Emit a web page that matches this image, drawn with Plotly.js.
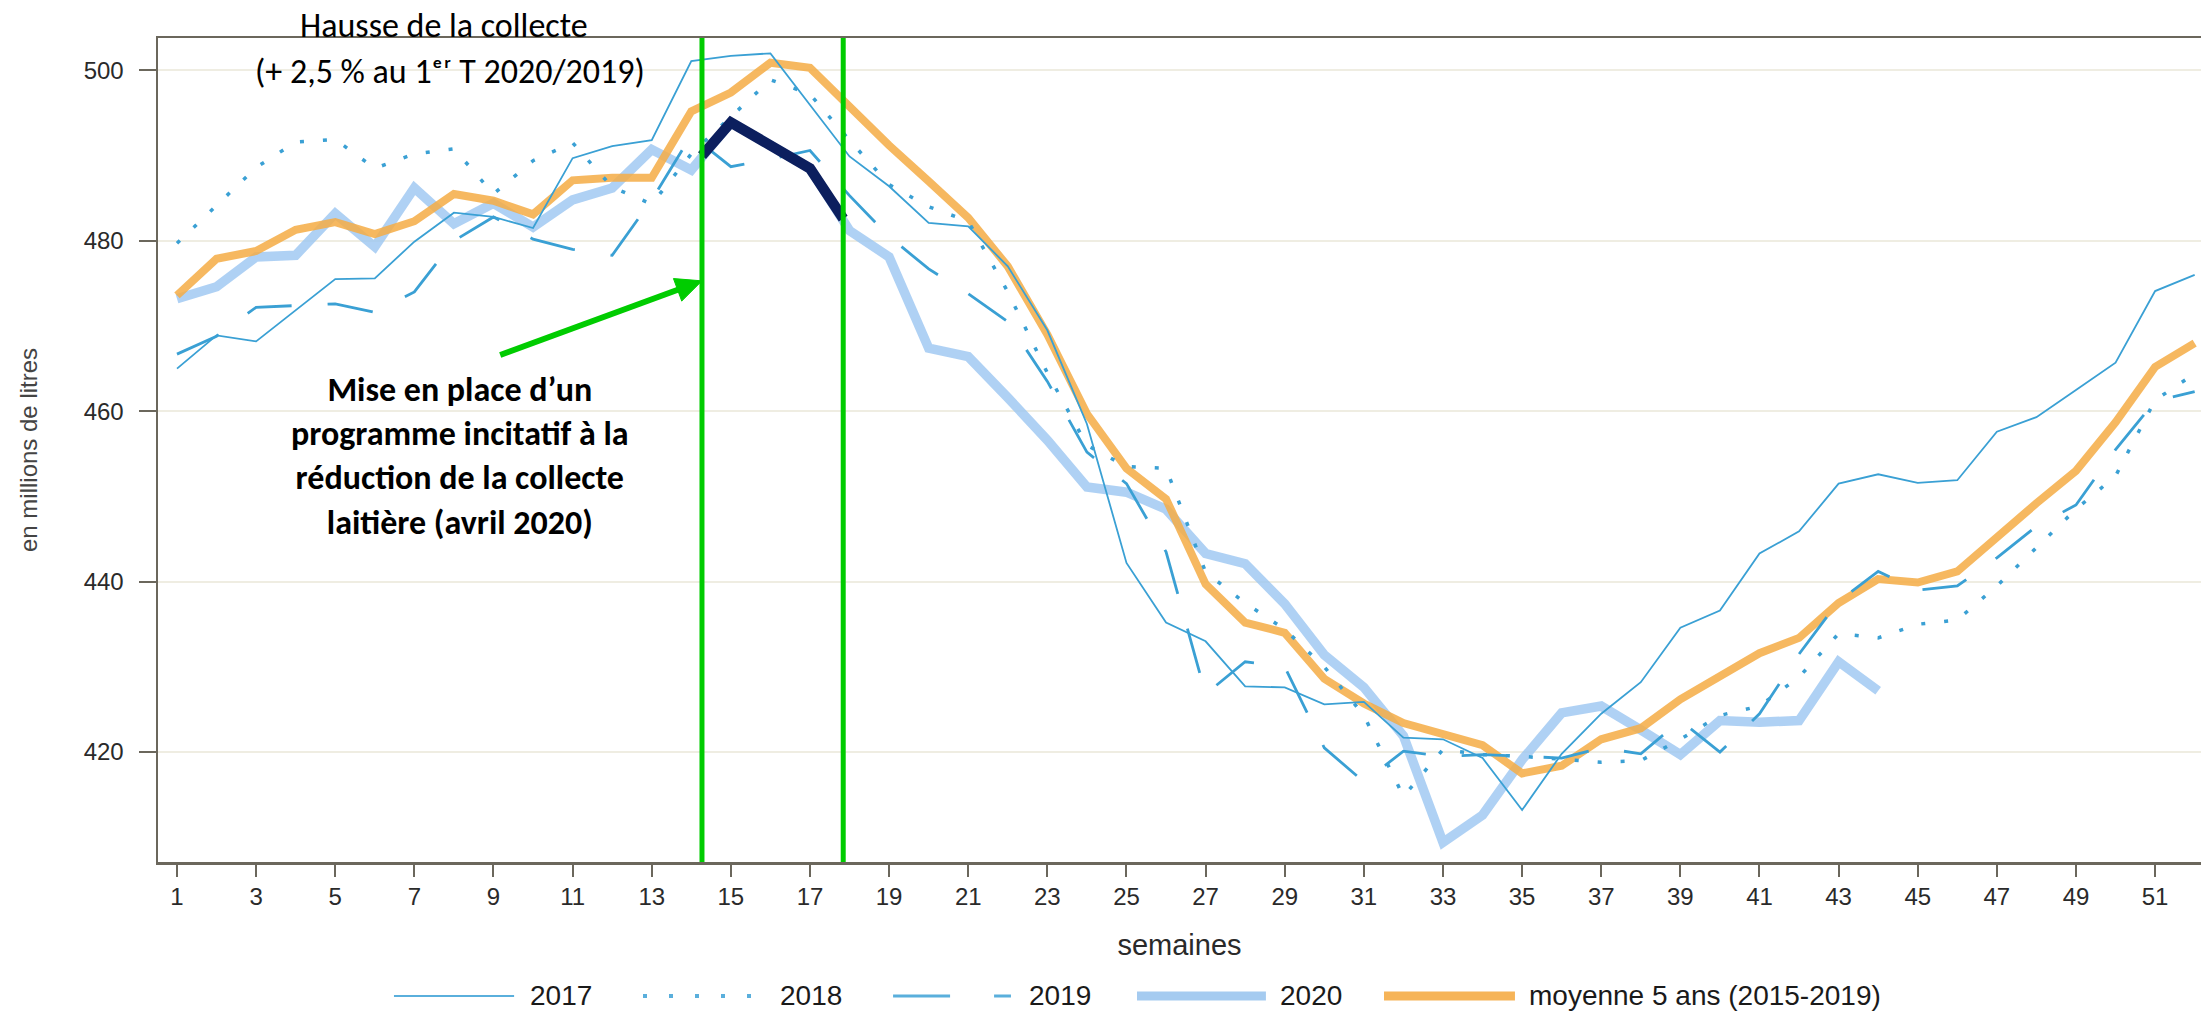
<!DOCTYPE html>
<html>
<head>
<meta charset="utf-8">
<script src="https://cdn.plot.ly/plotly-3.0.1.min.js"></script>
<style>
html, body { margin: 0; padding: 0; background: #ffffff; }
#chart { width: 2201px; height: 1015px; }
</style>
</head>
<body>
<div id="chart"></div>
<script>
// ---- Data ----
const weeks = [1,2,3,4,5,6,7,8,9,10,11,12,13,14,15,16,17,18,19,20,21,22,23,24,25,26,
               27,28,29,30,31,32,33,34,35,36,37,38,39,40,41,42,43,44,45,46,47,48,49,50,51,52];
const weeks2020 = [1,2,3,4,5,6,7,8,9,10,11,12,13,14,15,16,17,18,19,20,21,22,
                   23,24,25,26,27,28,29,30,31,32,33,34,35,36,37,38,39,40,41,42,43,44];

const collecte2017 = [465.0,468.9,468.2,471.8,475.5,475.6,479.9,483.3,482.8,481.5,489.7,491.1,491.8,501.1,501.7,502.0,
  496.0,489.9,486.4,482.1,481.7,477.0,469.5,458.5,442.2,435.2,433.0,427.7,427.6,425.6,425.9,421.7,421.5,419.3,413.2,
  419.8,424.5,428.2,434.6,436.6,443.3,445.9,451.5,452.6,451.6,451.9,457.6,459.3,462.5,465.7,474.1,476.0];

const collecte2018 = [479.7,484.2,488.6,491.6,491.9,488.5,490.2,490.8,485.5,489.4,491.5,486.3,484.3,490.2,494.6,498.9,
  497.2,491.8,486.6,484.0,482.3,474.0,464.5,456.0,453.5,453.3,441.1,437.5,434.4,430.0,424.3,414.8,420.3,419.7,419.5,
  419.2,418.8,419.0,421.5,424.3,425.4,428.8,433.9,433.4,435.0,435.5,439.5,444.0,448.5,452.4,461.3,464.4];

const collecte2019 = [466.7,468.8,472.2,472.4,472.6,471.6,474.0,480.0,482.8,480.2,479.0,478.3,484.8,492.4,488.7,489.6,
  490.6,485.3,480.5,476.7,473.8,470.5,463.5,455.2,451.5,443.5,426.8,430.6,430.0,420.5,416.5,420.1,419.5,419.7,419.5,
  419.3,420.5,419.8,423.7,420.0,424.5,431.5,437.7,441.2,439.0,439.5,442.8,446.5,449.0,455.5,461.2,462.3];

const collecte2020 = [473.2,474.6,478.1,478.3,483.2,479.3,486.2,482.0,484.4,481.6,484.8,486.2,490.7,488.3,493.9,491.2,
  488.5,481.2,478.1,467.4,466.4,461.6,456.6,451.1,450.5,448.5,443.3,442.1,437.4,431.4,427.6,421.9,409.4,412.6,419.1,
  424.6,425.4,422.6,419.7,423.7,423.5,423.7,430.6,427.2];

const moyenne5ans = [473.6,477.9,478.8,481.3,482.2,480.8,482.3,485.5,484.7,483.1,487.1,487.4,487.4,495.2,497.4,500.9,
  500.3,495.6,491.2,487.0,482.7,477.0,469.0,459.7,453.3,449.7,439.7,435.2,434.0,428.6,425.7,423.4,422.0,420.8,417.5,
  418.4,421.5,422.8,426.2,429.0,431.6,433.4,437.5,440.3,439.9,441.2,445.3,449.2,453.0,458.7,465.2,468.0];

// highlighted 2020 segment during the programme (between the two green markers)
const programmeWeeks = [14.27, 15, 17, 17.84];
const programmeValues = [490.0, 493.9, 488.5, 482.6];

// the two green markers (weeks) and the arrow (tail -> tip)
const periodBounds = [14.27, 17.84];
const arrowTail = {week: 9.17, value: 466.6};
const arrowTip = {week: 14.27, value: 475.3};

const xTickVals = [1,3,5,7,9,11,13,15,17,19,21,23,25,27,29,31,33,35,37,39,41,43,45,47,49,51];
const yTickVals = [420, 440, 460, 480, 500];

const seriesNames = ['2017', '2018', '2019', '2020', 'moyenne 5 ans (2015-2019)'];

// ---- Geometry / styles ----
const W = 2201, H = 1015;
const M = {l: 158, r: 0, t: 38, b: 153};
const xRange = [0.52, 52.16];
const yRange = [407.1, 503.8];

const blueThin = 'rgb(58,160,212)';
const lightBlue = 'rgba(155,198,241,0.8)';
const orange = 'rgba(245,172,70,0.86)';
const navy = '#0c1f5e';
const green = '#00cc00';
const axisColor = '#6b675c';

const traces = [
  {x: weeks2020, y: collecte2020, name: seriesNames[3], type: 'scatter', mode: 'lines',
   line: {color: lightBlue, width: 9.5}, showlegend: false, hoverinfo: 'skip'},
  {x: weeks, y: moyenne5ans, name: seriesNames[4], type: 'scatter', mode: 'lines',
   line: {color: orange, width: 8}, showlegend: false, hoverinfo: 'skip'},
  {x: weeks, y: collecte2017, name: seriesNames[0], type: 'scatter', mode: 'lines',
   line: {color: blueThin, width: 1.8}, showlegend: false, hoverinfo: 'skip'},
  {x: weeks, y: collecte2018, name: seriesNames[1], type: 'scatter', mode: 'lines',
   line: {color: blueThin, width: 3.5, dash: '4px,19px'}, showlegend: false, hoverinfo: 'skip'},
  {x: weeks, y: collecte2019, name: seriesNames[2], type: 'scatter', mode: 'lines',
   line: {color: blueThin, width: 2.8, dash: '46px,36px'}, showlegend: false, hoverinfo: 'skip'},
  {x: programmeWeeks, y: programmeValues, name: '2020 (programme)', type: 'scatter', mode: 'lines',
   line: {color: navy, width: 10.5}, showlegend: false, hoverinfo: 'skip'}
];

// ---- manual legend (long line samples as in the reference) ----
const legendY = -0.1625;
const legendItems = [
  {x0: 0.1155, x1: 0.1743, tx: 0.181, line: {color: 'rgb(90,175,220)', width: 2}},
  {x0: 0.2374, x1: 0.2912, tx: 0.3035, line: {color: 'rgb(90,175,220)', width: 4, dash: '4px,22px'}},
  {x0: 0.3598, x1: 0.4175, tx: 0.4255, line: {color: 'rgb(90,175,220)', width: 3, dash: '57px,44px'}},
  {x0: 0.4792, x1: 0.5423, tx: 0.5480, line: {color: 'rgb(165,203,240)', width: 9}},
  {x0: 0.6001, x1: 0.6642, tx: 0.6700, line: {color: 'rgb(246,180,88)', width: 9}}
];

const shapes = [];
periodBounds.forEach(function (w) {
  shapes.push({type: 'line', xref: 'x', yref: 'paper', x0: w, x1: w, y0: 0, y1: 1,
               line: {color: green, width: 5}, layer: 'above'});
});

// arrow drawn as a shaft + filled head, built from arrowTail / arrowTip in pixel space
(function () {
  const pxW = (W - M.l - M.r) / (xRange[1] - xRange[0]);
  const pxV = (H - M.t - M.b) / (yRange[1] - yRange[0]);
  const dx = (arrowTip.week - arrowTail.week) * pxW;
  const dy = (arrowTip.value - arrowTail.value) * pxV;
  const len = Math.sqrt(dx * dx + dy * dy);
  const ux = dx / len, uy = dy / len;
  const headLen = 26, headHalf = 12;
  const bx = -ux * headLen, by = -uy * headLen;
  const nx = -uy * headHalf, ny = ux * headHalf;
  const toW = function (px) { return px / pxW; };
  const toV = function (py) { return py / pxV; };
  const baseW = arrowTip.week + toW(bx), baseV = arrowTip.value + toV(by);
  shapes.push({type: 'line', xref: 'x', yref: 'y', x0: arrowTail.week, y0: arrowTail.value,
               x1: arrowTip.week + toW(bx * 0.6), y1: arrowTip.value + toV(by * 0.6),
               line: {color: green, width: 6}, layer: 'above'});
  const p1 = [arrowTip.week, arrowTip.value];
  const p2 = [baseW + toW(nx), baseV + toV(ny)];
  const p3 = [baseW - toW(nx), baseV - toV(ny)];
  shapes.push({type: 'path', xref: 'x', yref: 'y', layer: 'above',
               path: 'M' + p1[0] + ',' + p1[1] + ' L' + p2[0] + ',' + p2[1] + ' L' + p3[0] + ',' + p3[1] + ' Z',
               fillcolor: green, line: {color: green, width: 1}});
})();

legendItems.forEach(function (it) {
  shapes.push({type: 'line', xref: 'paper', yref: 'paper', x0: it.x0, x1: it.x1, y0: legendY, y1: legendY,
               line: it.line});
});

const annoFont = 'Carlito, Lato, sans-serif';
const annotations = [
  {xref: 'paper', yref: 'paper', x: 0.140, y: 1.0146, xanchor: 'center', yanchor: 'middle',
   text: 'Hausse de la collecte', showarrow: false,
   font: {family: annoFont, size: 34, color: '#000000'}},
  {xref: 'paper', yref: 'paper', x: 0.1429, y: 0.9593, xanchor: 'center', yanchor: 'middle',
   text: '(+ 2,5 % au 1ᵉʳ T 2020/2019)', showarrow: false,
   font: {family: annoFont, size: 34, color: '#000000'}},
  {xref: 'paper', yref: 'paper', x: 0.1478, y: 0.4933, xanchor: 'center', yanchor: 'middle', align: 'center',
   text: '<b>Mise en place d’un<br>programme incitatif à la<br>réduction de la collecte<br>laitière (avril 2020)</b>',
   showarrow: false, font: {family: annoFont, size: 34, color: '#000000'}}
];
legendItems.forEach(function (it, i) {
  annotations.push({xref: 'paper', yref: 'paper', x: it.tx, y: legendY, xanchor: 'left', yanchor: 'middle',
    text: seriesNames[i], showarrow: false,
    font: {family: 'Liberation Sans, Arial, sans-serif', size: 28, color: '#1a1a1a'}});
});

const layout = {
  width: W, height: H,
  margin: M,
  paper_bgcolor: '#ffffff', plot_bgcolor: '#ffffff',
  showlegend: false,
  font: {family: 'Liberation Sans, Arial, sans-serif', color: '#2a2a2a'},
  xaxis: {
    range: xRange, tickmode: 'array', tickvals: xTickVals,
    showgrid: false, zeroline: false,
    showline: true, mirror: true, linecolor: axisColor, linewidth: 2.5,
    ticks: 'outside', ticklen: 12, tickwidth: 2, tickcolor: axisColor,
    tickfont: {size: 24, color: '#2a2a2a'},
    title: {text: 'semaines', font: {size: 29, color: '#2a2a2a'}, standoff: 26}
  },
  yaxis: {
    range: yRange, tickmode: 'array', tickvals: yTickVals,
    showgrid: true, gridcolor: '#efede2', gridwidth: 2, zeroline: false,
    showline: true, linecolor: axisColor, linewidth: 2.5,
    ticks: 'outside', ticklen: 17, tickwidth: 2, tickcolor: axisColor,
    ticklabelstandoff: 10,
    tickfont: {size: 24, color: '#2a2a2a'},
    title: {text: 'en millions de litres', font: {size: 24, color: '#444444'}, standoff: 40}
  },
  shapes: shapes,
  annotations: annotations
};

Plotly.newPlot('chart', traces, layout, {displayModeBar: false, staticPlot: true});
</script>
</body>
</html>
